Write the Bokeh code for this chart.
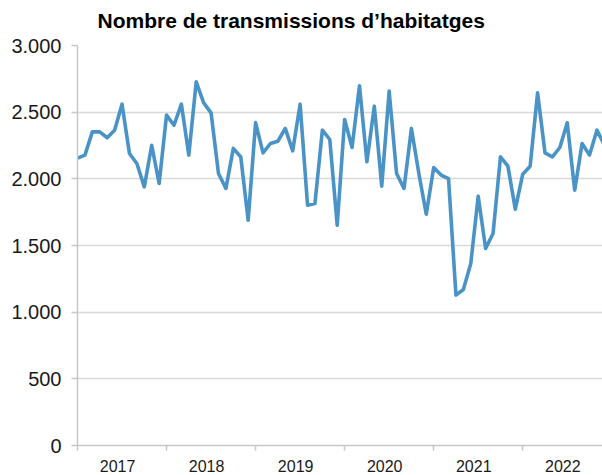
from bokeh.plotting import figure
from bokeh.models import Range1d, FixedTicker, Title
from bokeh.embed import file_html
from bokeh.resources import INLINE

# Monthly data, Jan 2017 .. Dec 2022
months_index = list(range(72))
transmissions = [
    2155, 2178, 2352, 2352, 2308, 2365, 2560, 2190, 2115, 1940, 2252, 1965,  # 2017
    2478, 2402, 2560, 2178, 2728, 2570, 2495, 2040, 1928, 2228, 2165, 1690,  # 2018
    2422, 2195, 2265, 2282, 2378, 2210, 2560, 1802, 1815, 2365, 2295, 1652,  # 2019
    2445, 2235, 2698, 2128, 2545, 1945, 2658, 2040, 1928, 2378, 2040, 1735,  # 2020
    2085, 2028, 2002, 1128, 1170, 1365, 1870, 1478, 1590, 2165, 2095, 1772,  # 2021
    2035, 2095, 2645, 2195, 2165, 2235, 2420, 1915, 2265, 2178, 2365, 2255,  # 2022
]
title_text = "Nombre de transmissions d\u2019habitatges"
year_labels = ["2017", "2018", "2019", "2020", "2021", "2022"]
year_label_pos = [5.4 + 12 * k for k in range(6)]
year_bounds = [12 * k for k in range(7)]
y_ticks = [0, 500, 1000, 1500, 2000, 2500, 3000]
y_tick_labels = ["0", "500", "1.000", "1.500", "2.000", "2.500", "3.000"]

p = figure(width=602, height=475, output_backend="svg", toolbar_location=None,
           x_range=Range1d(0, 70.75), y_range=Range1d(0, 3000),
           min_border_left=77, min_border_right=0, min_border_top=45, min_border_bottom=30,
           title=None)

p.line(months_index, transmissions, line_color="#4A93C6", line_width=3.6, line_join="round")

spacer = Title(text=" ", text_font_size="11px", standoff=0)
p.add_layout(spacer, "above")
main_title = Title(text=title_text, text_font="Liberation Sans", text_font_size="21px",
                   text_font_style="bold", text_color="#000000", align="left",
                   offset=20, standoff=0, text_line_height=1.0)
p.add_layout(main_title, "above")

p.outline_line_color = None
p.xgrid.grid_line_color = None
p.ygrid.grid_line_color = "#d9d9d9"
p.ygrid.grid_line_width = 1.5

text_color = "#1a1a1a"

xa = p.xaxis[0]
xa.ticker = FixedTicker(ticks=year_label_pos, minor_ticks=year_bounds)
xa.major_label_overrides = {pos: lab for pos, lab in zip(year_label_pos, year_labels)}
xa.major_tick_out = 0
xa.major_tick_in = 0
xa.minor_tick_out = 5
xa.minor_tick_in = 0
xa.minor_tick_line_color = "#c8c8c8"
xa.minor_tick_line_width = 1.5
xa.axis_line_color = "#c8c8c8"
xa.axis_line_width = 1.5
xa.major_label_text_font = "Liberation Sans"
xa.major_label_text_font_size = "16px"
xa.major_label_text_color = text_color
xa.major_label_standoff = 9

ya = p.yaxis[0]
ya.ticker = FixedTicker(ticks=y_ticks, minor_ticks=[])
ya.major_label_overrides = {t: lab for t, lab in zip(y_ticks, y_tick_labels)}
ya.major_tick_out = 6
ya.major_tick_in = 0
ya.major_tick_line_color = "#c8c8c8"
ya.major_tick_line_width = 1.5
ya.minor_tick_line_color = None
ya.axis_line_color = "#c8c8c8"
ya.axis_line_width = 1.5
ya.major_label_text_font = "Liberation Sans"
ya.major_label_text_font_size = "20px"
ya.major_label_text_color = text_color
ya.major_label_standoff = 10

open("out.html", "w").write(file_html(p, INLINE))
